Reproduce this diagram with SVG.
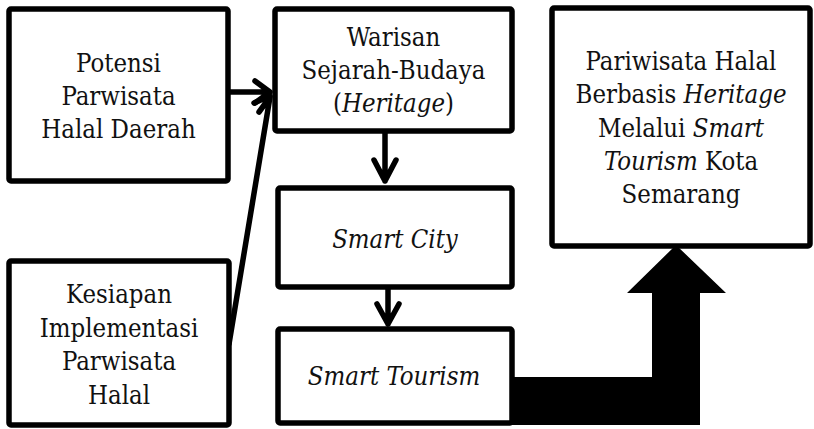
<svg xmlns="http://www.w3.org/2000/svg" width="814" height="429" viewBox="0 0 814 429">
<style>
.box{fill:#fff;stroke:#000;stroke-width:5.5;stroke-linejoin:round}
.t{font-family:"DejaVu Serif Condensed","DejaVu Serif",serif;font-stretch:condensed;font-size:25.5px;fill:#111;text-anchor:middle}
.i{font-style:italic}
.c{fill:none;stroke:#000;stroke-width:5.5;stroke-linecap:round;stroke-linejoin:round}
</style>
<rect width="814" height="429" fill="#fff"/>
<g id="connectors">
<path class="c" d="M229,92 L269,92 M255,81 L270,92 L255,103"/>
<path class="c" d="M229,344 L270,97 M254,103 L270,96 M259,112 L270,97"/>
<path class="c" d="M385,131 L385,181 M374,160 L385,181 L396,160"/>
<path class="c" d="M388,287 L388,324 M377,304 L388,324 L399,304"/>
<polygon fill="#000" points="510,377 652,377 652,293 627,293 676,245 726,293 700,293 700,425 510,425"/>
</g>
<g id="potensi">
<rect class="box" x="9" y="9" width="219" height="172" rx="2"/>
<text class="t" x="118.5" y="72">Potensi</text>
<text class="t" x="118.5" y="105">Parwisata</text>
<text class="t" x="118.5" y="138">Halal Daerah</text>
</g>
<g id="kesiapan">
<rect class="box" x="9" y="261" width="220" height="164" rx="2"/>
<text class="t" x="119" y="303">Kesiapan</text>
<text class="t" x="119" y="337">Implementasi</text>
<text class="t" x="119" y="370">Parwisata</text>
<text class="t" x="119" y="404">Halal</text>
</g>
<g id="warisan">
<rect class="box" x="275" y="9" width="237" height="122" rx="2"/>
<text class="t" x="393.5" y="46">Warisan</text>
<text class="t" x="393.5" y="79">Sejarah-Budaya</text>
<text class="t" x="393.5" y="112">(<tspan class="i">Heritage</tspan>)</text>
</g>
<g id="smartcity">
<rect class="box" x="278" y="188" width="234" height="99" rx="2"/>
<text class="t i" x="395" y="248">Smart City</text>
</g>
<g id="smarttourism">
<rect class="box" x="278" y="329" width="234" height="94" rx="2"/>
<text class="t i" x="394" y="385">Smart Tourism</text>
</g>
<g id="pariwisata">
<rect class="box" x="552" y="8" width="258" height="238" rx="2"/>
<text class="t" x="681" y="70">Pariwisata Halal</text>
<text class="t" x="681" y="103">Berbasis <tspan class="i">Heritage</tspan></text>
<text class="t" x="681" y="137">Melalui <tspan class="i">Smart</tspan></text>
<text class="t" x="681" y="170"><tspan class="i">Tourism</tspan> Kota</text>
<text class="t" x="681" y="203">Semarang</text>
</g>
</svg>
